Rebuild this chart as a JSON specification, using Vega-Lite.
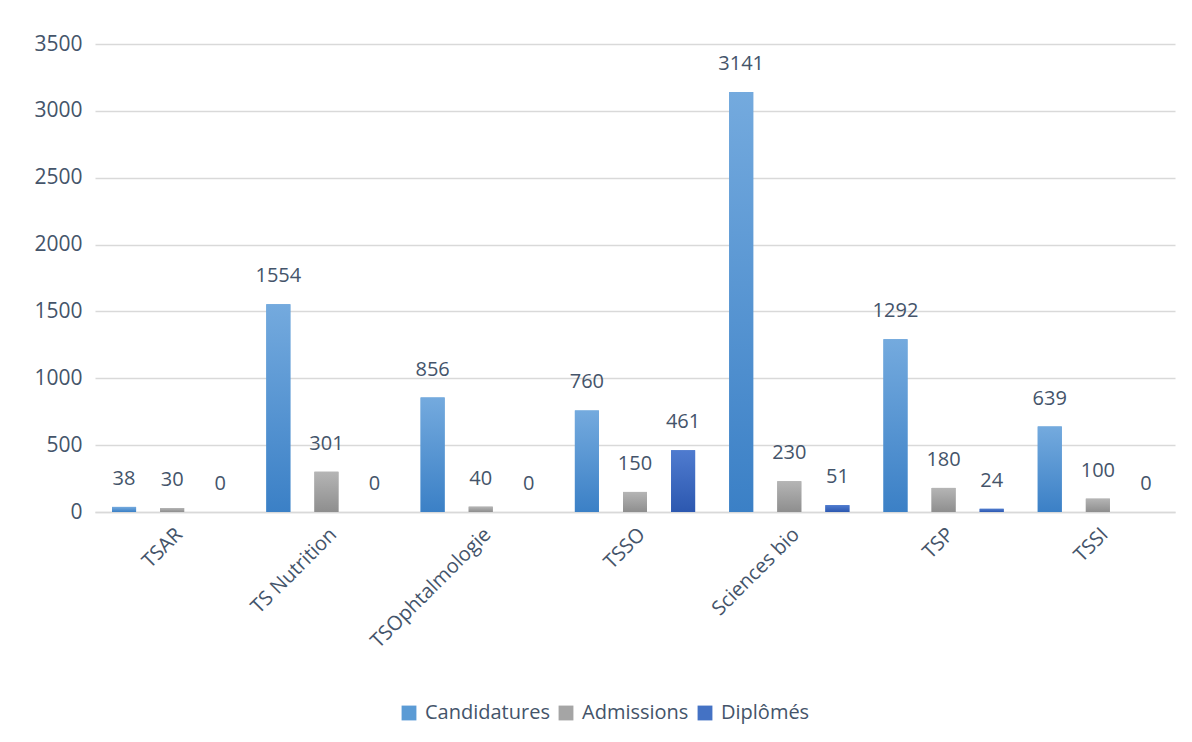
{
  "$schema": "https://vega.github.io/schema/vega-lite/v6.json",
  "width": 1080,
  "height": 468,
  "autosize": {"type": "none"},
  "padding": {"left": 95, "top": 44, "right": 17, "bottom": 230},
  "background": "white",
  "data": {"values": [
    {"filiere": "TSAR", "serie": "Candidatures", "valeur": 38},
    {"filiere": "TSAR", "serie": "Admissions", "valeur": 30},
    {"filiere": "TSAR", "serie": "Diplômés", "valeur": 0},
    {"filiere": "TS Nutrition", "serie": "Candidatures", "valeur": 1554},
    {"filiere": "TS Nutrition", "serie": "Admissions", "valeur": 301},
    {"filiere": "TS Nutrition", "serie": "Diplômés", "valeur": 0},
    {"filiere": "TSOphtalmologie", "serie": "Candidatures", "valeur": 856},
    {"filiere": "TSOphtalmologie", "serie": "Admissions", "valeur": 40},
    {"filiere": "TSOphtalmologie", "serie": "Diplômés", "valeur": 0},
    {"filiere": "TSSO", "serie": "Candidatures", "valeur": 760},
    {"filiere": "TSSO", "serie": "Admissions", "valeur": 150},
    {"filiere": "TSSO", "serie": "Diplômés", "valeur": 461},
    {"filiere": "Sciences bio", "serie": "Candidatures", "valeur": 3141},
    {"filiere": "Sciences bio", "serie": "Admissions", "valeur": 230},
    {"filiere": "Sciences bio", "serie": "Diplômés", "valeur": 51},
    {"filiere": "TSP", "serie": "Candidatures", "valeur": 1292},
    {"filiere": "TSP", "serie": "Admissions", "valeur": 180},
    {"filiere": "TSP", "serie": "Diplômés", "valeur": 24},
    {"filiere": "TSSI", "serie": "Candidatures", "valeur": 639},
    {"filiere": "TSSI", "serie": "Admissions", "valeur": 100},
    {"filiere": "TSSI", "serie": "Diplômés", "valeur": 0}
  ]},
  "encoding": {
    "x": {
      "field": "filiere", "type": "nominal", "sort": null, "title": null,
      "scale": {"paddingInner": 0, "paddingOuter": 0},
      "axis": {"labelAngle": -45, "labelFontSize": 20, "labelColor": "#44546a", "labelFont": "Open Sans",
               "ticks": false, "domainColor": "#d9d9d9", "domainWidth": 1.5, "labelPadding": 12, "grid": false}
    },
    "xOffset": {
      "field": "serie", "type": "nominal", "sort": ["Candidatures", "Admissions", "Diplômés"],
      "scale": {"paddingInner": 0.5, "paddingOuter": 0.354}
    },
    "y": {
      "field": "valeur", "type": "quantitative", "title": null,
      "scale": {"domain": [0, 3500]},
      "axis": {"values": [0, 500, 1000, 1500, 2000, 2500, 3000, 3500], "format": "d", "labelFontSize": 21,
               "labelColor": "#44546a", "labelFont": "Open Sans", "ticks": false, "domain": false,
               "gridColor": "#d9d9d9", "gridWidth": 1.5, "labelPadding": 13}
    }
  },
  "layer": [
    {
      "mark": {"type": "bar"},
      "encoding": {
        "color": {
          "field": "serie", "type": "nominal", "title": null,
          "sort": ["Candidatures", "Admissions", "Diplômés"],
          "scale": {"domain": ["Candidatures", "Admissions", "Diplômés"], "range": ["#5b9bd5", "#a5a5a5", "#4472c4"]},
          "legend": {"orient": "none", "legendX": 304, "legendY": 659, "direction": "horizontal",
                     "symbolType": "square", "symbolSize": 220, "labelFontSize": 20, "labelFont": "Open Sans",
                     "labelColor": "#44546a", "columnPadding": 6, "symbolOffset": 0, "labelOffset": 6}
        }
      }
    },
    {
      "mark": {"type": "bar"},
      "encoding": {
        "fill": {
          "condition": [
            {"test": "datum.serie === 'Candidatures'",
             "value": {"gradient": "linear", "x1": 0, "y1": 0, "x2": 0, "y2": 1,
                       "stops": [{"offset": 0, "color": "#74aade"}, {"offset": 1, "color": "#3b80c6"}]}},
            {"test": "datum.serie === 'Admissions'",
             "value": {"gradient": "linear", "x1": 0, "y1": 0, "x2": 0, "y2": 1,
                       "stops": [{"offset": 0, "color": "#b5b5b5"}, {"offset": 1, "color": "#8e8e8e"}]}}
          ],
          "value": {"gradient": "linear", "x1": 0, "y1": 0, "x2": 0, "y2": 1,
                    "stops": [{"offset": 0, "color": "#4f7bcf"}, {"offset": 1, "color": "#2c58b0"}]}
        }
      }
    },
    {
      "mark": {"type": "text", "baseline": "alphabetic", "dy": -22, "fontSize": 20, "font": "Open Sans", "color": "#44546a"},
      "encoding": {"text": {"field": "valeur", "type": "quantitative"}}
    }
  ],
  "config": {"view": {"stroke": null}}
}
